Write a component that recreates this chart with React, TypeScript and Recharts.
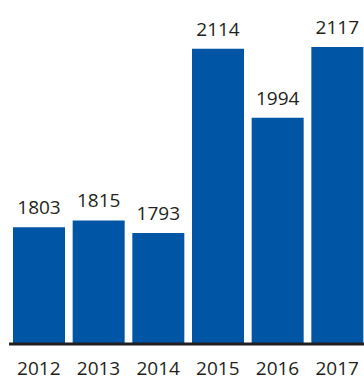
import React from 'react';
import { BarChart, Bar, XAxis, YAxis, LabelList } from 'recharts';

// years and values
const years = ['2012', '2013', '2014', '2015', '2016', '2017'];
const totals = [1803, 1815, 1793, 2114, 1994, 2117];

const data = years.map((year, i) => ({ year, total: totals[i] }));

const FONT = '"Open Sans", "Noto Sans", sans-serif';
const BLUE = '#0055a4';
const INK = '#231f20';

function App() {
  return (
    <div style={{ position: 'absolute', left: 0, top: 0, width: 364, height: 380, overflow: 'hidden', background: '#fff' }}>
      <BarChart width={370} height={380} data={data} margin={{ top: 28, right: 3, bottom: 0, left: 9 }}>
        <XAxis
          dataKey="year"
          height={36}
          tickLine={false}
          tickSize={0}
          tickMargin={18}
          axisLine={{ stroke: INK, strokeWidth: 3 }}
          tick={{ fill: INK, fontSize: 19, fontFamily: FONT }}
          interval={0}
        />
        <YAxis hide domain={[1600, 2150]} allowDataOverflow />
        <Bar dataKey="total" fill={BLUE} barSize={52} isAnimationActive={false}>
          <LabelList dataKey="total" position="top" offset={13} fill={INK} fontSize={19} fontFamily={FONT} />
        </Bar>
      </BarChart>
    </div>
  );
}

export default App;
